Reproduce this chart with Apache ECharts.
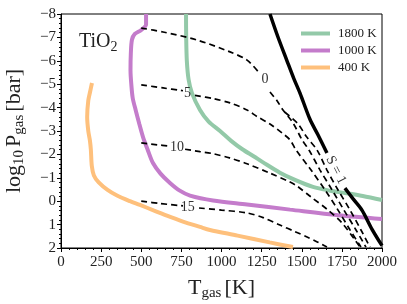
<!DOCTYPE html>
<html><head><meta charset="utf-8">
<script src="https://cdn.jsdelivr.net/npm/echarts@6/dist/echarts.min.js"></script>
<style>html,body{margin:0;padding:0;background:#fff}#c{width:407px;height:304px}</style>
</head><body><div id="c"></div>
<script>
// ---- data (T_gas [K], log10 P_gas [bar]) ----
const names = ['1800 K', '1000 K', '400 K'];
const curve1800 = [[779,-8],[780,-7],[784,-6],[795,-5.2],[816,-4.62],[866,-3.9],[920,-3.4],[991,-3.0],[1060,-2.58],[1130,-2.22],[1200,-1.92],[1259,-1.66],[1364,-1.22],[1458,-0.91],[1570,-0.61],[1676,-0.45],[1769,-0.35],[1880,-0.22],[2000,-0.05]];
const curve1000 = [[530,-8],[530,-7.55],[500,-7.32],[460,-7.15],[442,-6.9],[435,-6.3],[433,-5.6],[438,-5.0],[447,-4.4],[465,-3.9],[488,-3.3],[511,-2.74],[540,-2.2],[573,-1.63],[620,-1.18],[679,-0.78],[740,-0.45],[804,-0.24],[947,-0.03],[1159,0.14],[1427,0.36],[1726,0.6],[2000,0.76]];
const curve400 = [[193,-5.05],[182,-4.7],[170,-4.3],[163,-3.6],[170,-3.0],[180,-2.6],[186,-2.2],[192,-1.5],[205,-1.1],[235,-0.8],[290,-0.48],[349,-0.24],[430,0.0],[492,0.16],[580,0.4],[660,0.62],[760,0.87],[866,1.1],[928,1.23],[1100,1.47],[1300,1.76],[1445,1.96]];
const contour0A = [[500,-7.4],[636,-7.23],[847,-6.89],[1053,-6.38],[1159,-6.03],[1227,-5.55]];
const contour0B = [[1302,-4.67],[1345,-4.3],[1383,-3.9],[1445,-3.35],[1502,-2.62],[1545,-2.19],[1614,-1.33],[1689,-0.48],[1763,0.38],[1838,1.23],[1900,1.96]];
const contour0C = [[1395,-3.8],[1477,-3.3],[1530,-2.75],[1595,-2.19],[1657,-1.33],[1726,-0.48],[1801,0.38],[1869,1.23],[1925,1.96]];
const contour5A = [[500,-4.97],[636,-4.84],[760,-4.72]];
const contour5B = [[835,-4.52],[950,-4.38],[1053,-4.2],[1159,-3.9],[1221,-3.62],[1302,-3.3],[1380,-2.9],[1427,-2.62],[1464,-2.19],[1558,-1.33],[1645,-0.48],[1726,0.38],[1801,1.23],[1869,1.96]];
const contour10A = [[500,-2.49],[600,-2.41],[673,-2.36]];
const contour10B = [[773,-2.22],[866,-2.12],[947,-2.03],[1050,-1.85],[1159,-1.6],[1302,-1.2],[1427,-0.82],[1470,-0.65],[1558,-0.18],[1664,0.38],[1751,0.93],[1832,1.66],[1863,1.96]];
const contour15A = [[500,0.0],[620,0.1],[760,0.2]];
const contour15B = [[860,0.29],[1000,0.38],[1159,0.5],[1259,0.7],[1364,1.02],[1458,1.3],[1533,1.53],[1600,1.75],[1657,1.96]];
const sEq1A = [[1302,-8],[1350,-7.05],[1408,-6.0],[1450,-5.25],[1489,-4.62],[1551,-3.5],[1600,-2.85],[1657,-2.06]];
const sEq1B = [[1769,-0.56],[1820,-0.1],[1875,0.38],[1938,1.2],[2000,1.9]];
const contourLabels = [['0',1271,-5.2],['5',788,-4.62],['10',723,-2.32],['15',790,0.25]];
const sLabel = ['S = 1',1713,-1.33];

const FONT = "'Liberation Serif','DejaVu Serif',serif";
const colors = {'1800 K':'#93c9a8','1000 K':'#c47ccb','400 K':'#fec07c'};

const chart = echarts.init(document.getElementById('c'), null, {renderer:'canvas'});
function colored(name, data){
  return {type:'line', name, data, showSymbol:false, symbol:'none', smooth:0.3, z:2,
    color: colors[name], lineStyle:{color:colors[name], width:4}};
}
function dashed(data){
  return {type:'line', data, showSymbol:false, symbol:'none', smooth:0.3, z:3,
    lineStyle:{color:'#000', width:1.7, type:[6,4]}};
}
function solid(data){
  return {type:'line', data, showSymbol:false, symbol:'none', smooth:0.3, z:4,
    lineStyle:{color:'#000', width:3.5}};
}
const richName = {m:{fontFamily:FONT,fontSize:22,lineHeight:22,color:'#222'}, s:{fontFamily:FONT,fontSize:15,lineHeight:15,padding:[11,0,0,0],color:'#222'}};
const option = {
  animation:false,
  grid:{left:61, right:25, top:14, bottom:56, show:true, borderColor:'#000', borderWidth:1, outerBoundsMode:'none', containLabel:false},
  legend:{
    data:names, orient:'vertical', left:296, top:22, itemWidth:29, itemHeight:4, icon:'rect', itemGap:4,
    textStyle:{fontFamily:FONT, fontSize:13, lineHeight:13, color:'#222', padding:[0,0,0,3]}
  },
  xAxis:{type:'value', min:0, max:2000, interval:250,
    name:'{m|T}{s|gas} {m|[K]}', nameLocation:'middle', nameGap:24,
    nameTextStyle:{fontFamily:FONT, rich:richName},
    axisLine:{onZero:false, lineStyle:{color:'#000',width:1}}, axisTick:{show:true,inside:false,length:4,lineStyle:{color:'#000'}},
    minorTick:{show:true,splitNumber:5,length:2,lineStyle:{color:'#000'}},
    splitLine:{show:false},
    axisLabel:{fontFamily:FONT, fontSize:15, color:'#222', margin:7, formatter:v=>String(v)}
  },
  yAxis:{type:'value', min:-8, max:2, interval:1, inverse:true,
    name:'{m|log}{s|10} {m|P}{s|gas} {m|[bar]}', nameLocation:'middle', nameGap:36, nameRotate:90,
    nameTextStyle:{fontFamily:FONT, rich:richName},
    axisLine:{onZero:false, lineStyle:{color:'#000',width:1}}, axisTick:{show:true,inside:false,length:4,lineStyle:{color:'#000'}},
    minorTick:{show:true,splitNumber:5,length:2,lineStyle:{color:'#000'}},
    splitLine:{show:false},
    axisLabel:{fontFamily:FONT, fontSize:15, color:'#222', margin:5,
      formatter:v=> v<0 ? '\u2212'+Math.abs(v) : String(v)}
  },
  series:[
    colored('1800 K', curve1800),
    colored('1000 K', curve1000),
    colored('400 K', curve400),
    dashed(contour0A), dashed(contour0B), dashed(contour0C),
    dashed(contour5A), dashed(contour5B),
    dashed(contour10A), dashed(contour10B),
    dashed(contour15A), dashed(contour15B),
    solid(sEq1A), solid(sEq1B)
  ]
};
chart.setOption(option);

const graphics = [];
contourLabels.forEach(([t,x,y])=>{
  const p = chart.convertToPixel({gridIndex:0},[x,y]);
  graphics.push({type:'text', x:p[0], y:p[1], z:10,
    style:{text:t, fontFamily:FONT, fontSize:14, fill:'#333', align:'center', verticalAlign:'middle'}});
});
{
  const p = chart.convertToPixel({gridIndex:0},[sLabel[1],sLabel[2]]);
  graphics.push({type:'text', x:p[0], y:p[1], rotation:-63*Math.PI/180, z:10,
    style:{text:sLabel[0], fontFamily:FONT, fontSize:14, fill:'#333', align:'center', verticalAlign:'middle'}});
}
graphics.push({type:'text', left:79, top:30, z:10,
  style:{text:'{m|TiO}{s|2}', fontFamily:FONT,
    rich:{m:{fontFamily:FONT,fontSize:20,lineHeight:20,fill:'#222'}, s:{fontFamily:FONT,fontSize:14,lineHeight:14,padding:[10,0,0,0],fill:'#222'}}}});
chart.setOption({graphic:graphics});
</script></body></html>
